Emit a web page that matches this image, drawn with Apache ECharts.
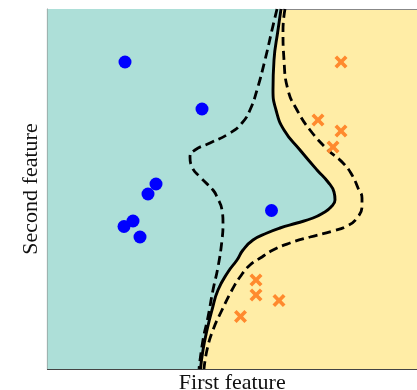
<!DOCTYPE html>
<html>
<head>
<meta charset="utf-8">
<script src="https://cdn.jsdelivr.net/npm/echarts@6/dist/echarts.min.js"></script>
<style>html,body{margin:0;padding:0;background:#fff}#c{width:417px;height:390px}</style>
</head>
<body>
<div id="c"></div>
<script>
// Class 0 (blue circles)
const class0 = [[77.5,307],[154.5,260],[108.5,185],[100.5,175],[85.5,148],[76.5,142.5],[92.5,132],[224,158.5]];
// Class 1 (orange crosses)
const class1 = [[293.5,307],[270.5,249],[293.5,238],[285.5,222],[208.5,89],[208.5,74],[231.5,68.5],[193,52.5]];
// Decision boundary (level 0), top to bottom
const boundary = [[233.5,360],[230.5,339],[226.5,309],[225.5,279],[228.5,259],[236.5,239],[252.5,219],[269.5,199],[280.5,187],[286.5,177],[287.5,169],[283.5,162],[275.5,156],[265.5,151],[249.5,146],[232.5,141],[219.5,136],[205.5,129],[195.5,119],[189.5,109],[180.5,97],[170.5,79],[164.5,59],[159.5,39],[155.5,19],[153,0]];
// Margin +1
const marginPos = [[237.5,360],[235.5,339],[236.5,309],[240.5,279],[249.5,259],[262.5,239],[280.5,219],[295.5,206],[304.5,194],[310.5,181],[314.5,171],[314.5,163],[309.5,151],[299.5,143],[285.5,138],[262.5,132],[242.5,126],[225.5,119],[214.5,112],[202.5,104],[192.5,92],[184.5,79],[174.5,59],[165.5,39],[159.5,19],[156.5,0]];
// Margin -1
const marginNeg = [[229.5,360],[224.5,339],[217.5,309],[209.5,279],[202.5,259],[194.5,246],[182.5,236],[162.5,226],[147.5,219],[142.5,212],[144.5,202],[152.5,192],[165.5,179],[169.5,172],[174.5,159],[175.5,146],[174.5,129],[170.5,102],[165.5,79],[160.5,52],[155.5,29],[151.5,0]];

const X_MIN = 0, X_MAX = 369.5, Y_MIN = 0, Y_MAX = 360;
const TEAL = '#addfd8', YELLOW = '#ffeda6';
const crossPath = 'path://M2,0L5,3L8,0L10,2L7,5L10,8L8,10L5,7L2,10L0,8L3,5L0,2Z';

const chart = echarts.init(document.getElementById('c'), null, {renderer:'canvas'});
const font = 'Liberation Serif';
chart.setOption({
  animation:false,
  grid:{left:47.5,right:0,top:9,bottom:21,show:true,backgroundColor:YELLOW,borderWidth:0,containLabel:false,outerBoundsMode:'none'},
  xAxis:[{type:'value',min:X_MIN,max:X_MAX,position:'bottom',
    axisLine:{show:true,lineStyle:{color:'#444',width:1.2}},axisTick:{show:false},axisLabel:{show:false},splitLine:{show:false},
    name:'First feature',nameLocation:'middle',nameGap:3,nameTextStyle:{fontFamily:font,fontSize:22,color:'#111'}},
    {type:'value',min:X_MIN,max:X_MAX,position:'top',
    axisLine:{show:true,lineStyle:{color:'#888',width:1.2}},axisTick:{show:false},axisLabel:{show:false},splitLine:{show:false}}],
  yAxis:{type:'value',min:Y_MIN,max:Y_MAX,
    axisLine:{show:true,onZero:false,lineStyle:{color:'#888',width:1.2}},axisTick:{show:false},axisLabel:{show:false},splitLine:{show:false},
    name:'Second feature',nameLocation:'middle',nameGap:5,nameTextStyle:{fontFamily:font,fontSize:22,color:'#111'}},
  series:[
    {type:'custom',data:[[0,0]],silent:true,z:1,
      renderItem:function(params,api){
        const pts=[api.coord([X_MIN,Y_MAX])].concat(boundary.map(p=>api.coord(p)),[api.coord([X_MIN,Y_MIN])]);
        return {type:'polygon',shape:{points:pts,smooth:0},style:{fill:TEAL}};
      }},
    {type:'line',data:boundary,smooth:0.5,symbol:'none',z:3,lineStyle:{color:'#000',width:2.9}},
    {type:'line',data:marginPos,smooth:0.5,symbol:'none',z:3,lineStyle:{color:'#000',width:2.8,type:[9,5]}},
    {type:'line',data:marginNeg,smooth:0.5,symbol:'none',z:3,lineStyle:{color:'#000',width:2.8,type:[9,5]}},
    {type:'scatter',data:class0,symbol:'circle',symbolSize:13,z:5,itemStyle:{color:'#0000ff',opacity:1}},
    {type:'scatter',data:class1,symbol:crossPath,symbolSize:13,z:5,itemStyle:{color:'#ff8a2e',opacity:1}}
  ]
});
</script>
</body>
</html>
